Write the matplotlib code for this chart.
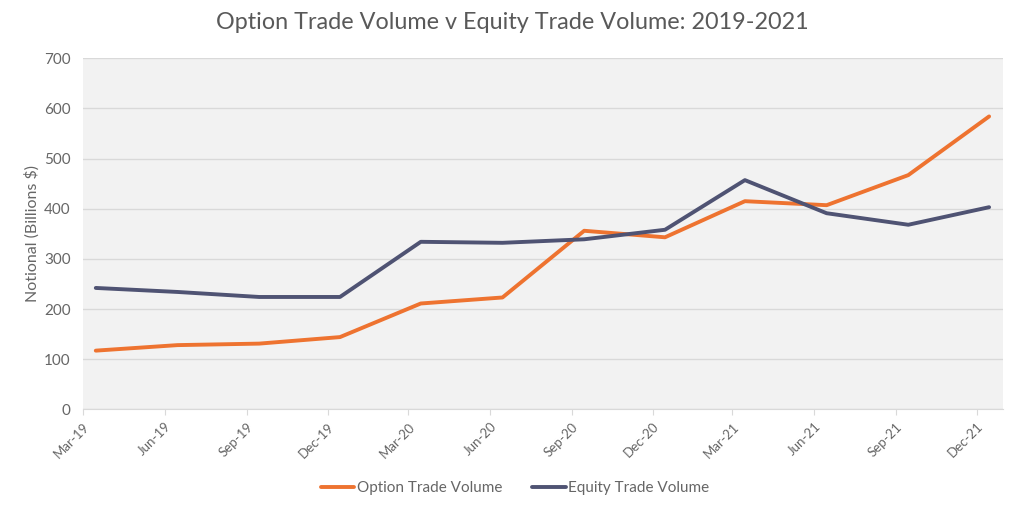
import matplotlib
matplotlib.use("Agg")
import matplotlib.pyplot as plt
import pandas as pd

quarters = ["Mar-19", "Jun-19", "Sep-19", "Dec-19", "Mar-20", "Jun-20",
            "Sep-20", "Dec-20", "Mar-21", "Jun-21", "Sep-21", "Dec-21"]
option_volume = [117, 128, 131, 144, 211, 223, 356, 343, 415, 407, 467, 584]
equity_volume = [242, 234, 224, 224, 334, 332, 339, 358, 457, 391, 368, 403]
y_ticks = [0, 100, 200, 300, 400, 500, 600, 700]

plt.rcParams['font.family'] = ['Lato', 'DejaVu Sans']

tick_dates = pd.to_datetime(quarters, format="%b-%y")
point_dates = tick_dates + pd.Timedelta(days=14)

fig = plt.figure(figsize=(10.24, 5.11), dpi=100)
ax = fig.add_axes([0.0814, 0.199, 0.8984, 0.687])
ax.set_facecolor("#f2f2f2")

orange = "#ee7330"
slate = "#4f5373"
ax.plot(point_dates, option_volume, color=orange, lw=2.8, label="Option Trade Volume",
        solid_capstyle="round", zorder=3)
ax.plot(point_dates, equity_volume, color=slate, lw=2.8, label="Equity Trade Volume",
        solid_capstyle="round", zorder=3)

ax.set_ylim(0, 700)
ax.set_yticks(y_ticks)
ax.set_xlim(tick_dates[0], tick_dates[-1] + pd.Timedelta(days=30))
ax.set_xticks(tick_dates)
ax.set_xticklabels(quarters, rotation=45, ha="right", rotation_mode="anchor")

ax.grid(axis="y", color="#d9d9d9", lw=1)
ax.set_axisbelow(True)
for s in ["top", "right", "left"]:
    ax.spines[s].set_visible(False)
ax.spines["bottom"].set_color("#d9d9d9")
ax.tick_params(axis="y", length=0, pad=9, labelsize=11, labelcolor="#666666")
ax.tick_params(axis="x", length=4, color="#d9d9d9", pad=4, labelsize=9.5, labelcolor="#666666")

ax.set_ylabel("Notional (Billions $)", fontsize=11.5, color="#666666")
ax.yaxis.set_label_coords(-0.047, 0.5)
fig.text(0.5, 0.955, "Option Trade Volume v Equity Trade Volume: 2019-2021",
         ha="center", va="center", fontsize=16.8, color="#595959")

leg = fig.legend(loc="center", bbox_to_anchor=(0.503, 0.045), ncol=2, frameon=False,
                 fontsize=11, handlelength=2.2, handletextpad=0.15, columnspacing=2.0)
for t in leg.get_texts():
    t.set_color("#666666")

fig.savefig("out.png", dpi=100)
